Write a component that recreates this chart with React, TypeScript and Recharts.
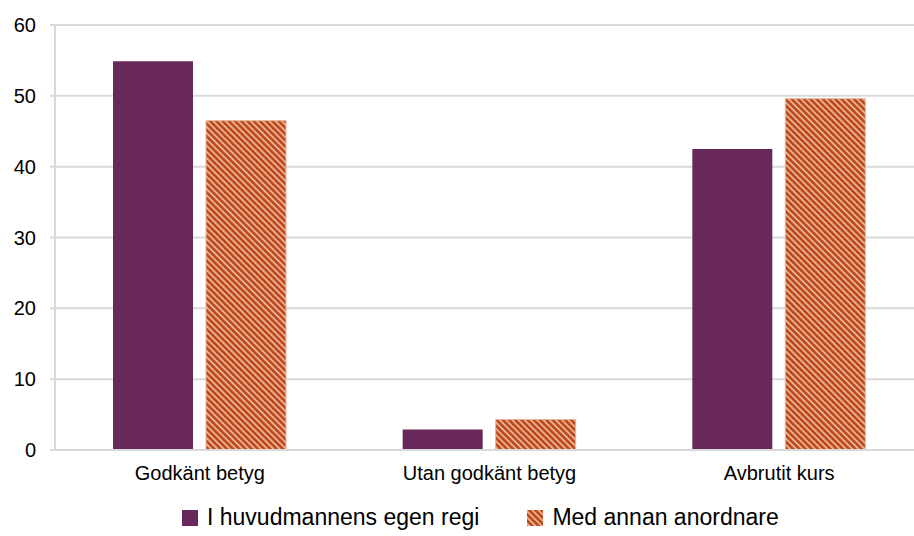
import React from "react";
import { BarChart, Bar, XAxis, YAxis, CartesianGrid, Legend } from "recharts";

const categories = ["Godkänt betyg", "Utan godkänt betyg", "Avbrutit kurs"];
const egenRegi = [54.9, 2.9, 42.5];
const annanAnordnare = [46.5, 4.3, 49.6];
const yTicks = [0, 10, 20, 30, 40, 50, 60];
const seriesNames = ["I huvudmannens egen regi", "Med annan anordnare"];

const data = categories.map((c, i) => ({ name: c, a: egenRegi[i], b: annanAnordnare[i] }));

const PURPLE = "#69285A";
const ORANGE = "#BE4A1C";
const FONT = "'Liberation Sans', Arial, sans-serif";

const PatternDefs = ({ id }: { id: string }) => (
  <defs>
    <pattern id={id} width="4.4" height="4.4" patternUnits="userSpaceOnUse" patternTransform="rotate(45)">
      <rect width="4.4" height="4.4" fill={ORANGE} />
      <rect x="0" y="0" width="4.4" height="1.6" fill="#EDBDA5" />
    </pattern>
  </defs>
);

const renderLegend = () => (
  <div style={{ display: "flex", justifyContent: "flex-start", alignItems: "center", fontFamily: FONT, fontSize: 23, color: "#000", paddingLeft: 182, paddingTop: 12 }}>
    <div style={{ display: "flex", alignItems: "center", marginRight: 48 }}>
      <svg width={16} height={16} style={{ marginRight: 9 }}>
        <rect width={16} height={16} fill={PURPLE} />
      </svg>
      <span>{seriesNames[0]}</span>
    </div>
    <div style={{ display: "flex", alignItems: "center" }}>
      <svg width={16} height={16} style={{ marginRight: 9 }}>
        <PatternDefs id="hatchLegend" />
        <rect width={16} height={16} fill="url(#hatchLegend)" />
      </svg>
      <span>{seriesNames[1]}</span>
    </div>
  </div>
);

export default function App() {
  return (
    <div style={{ position: "absolute", left: 0, top: 0, width: 914, height: 536, overflow: "hidden", background: "#fff" }}>
      <BarChart
        width={925}
        height={536}
        data={data}
        margin={{ top: 25, right: 1, bottom: 0, left: 0 }}
        barCategoryGap={58}
        barGap={13}
      >
        <PatternDefs id="hatch" />
        <CartesianGrid vertical={false} stroke="#D9D9D9" strokeWidth={2} />
        <XAxis
          dataKey="name"
          tickLine={false}
          axisLine={{ stroke: "#D9D9D9", strokeWidth: 2 }}
          tick={{ fill: "#000", fontSize: 20, fontFamily: FONT }}
          tickMargin={10}
          height={42}
        />
        <YAxis
          domain={[0, 60]}
          ticks={yTicks}
          width={55}
          tickSize={5}
          tickMargin={14}
          tickLine={{ stroke: "#D9D9D9", strokeWidth: 2 }}
          axisLine={{ stroke: "#D9D9D9", strokeWidth: 2 }}
          tick={{ fill: "#000", fontSize: 20, fontFamily: FONT }}
        />
        <Legend verticalAlign="bottom" height={44} content={renderLegend} />
        <Bar dataKey="a" name={seriesNames[0]} fill={PURPLE} isAnimationActive={false} />
        <Bar dataKey="b" name={seriesNames[1]} fill="url(#hatch)" stroke="#E8B49A" strokeWidth={1} isAnimationActive={false} />
      </BarChart>
    </div>
  );
}
